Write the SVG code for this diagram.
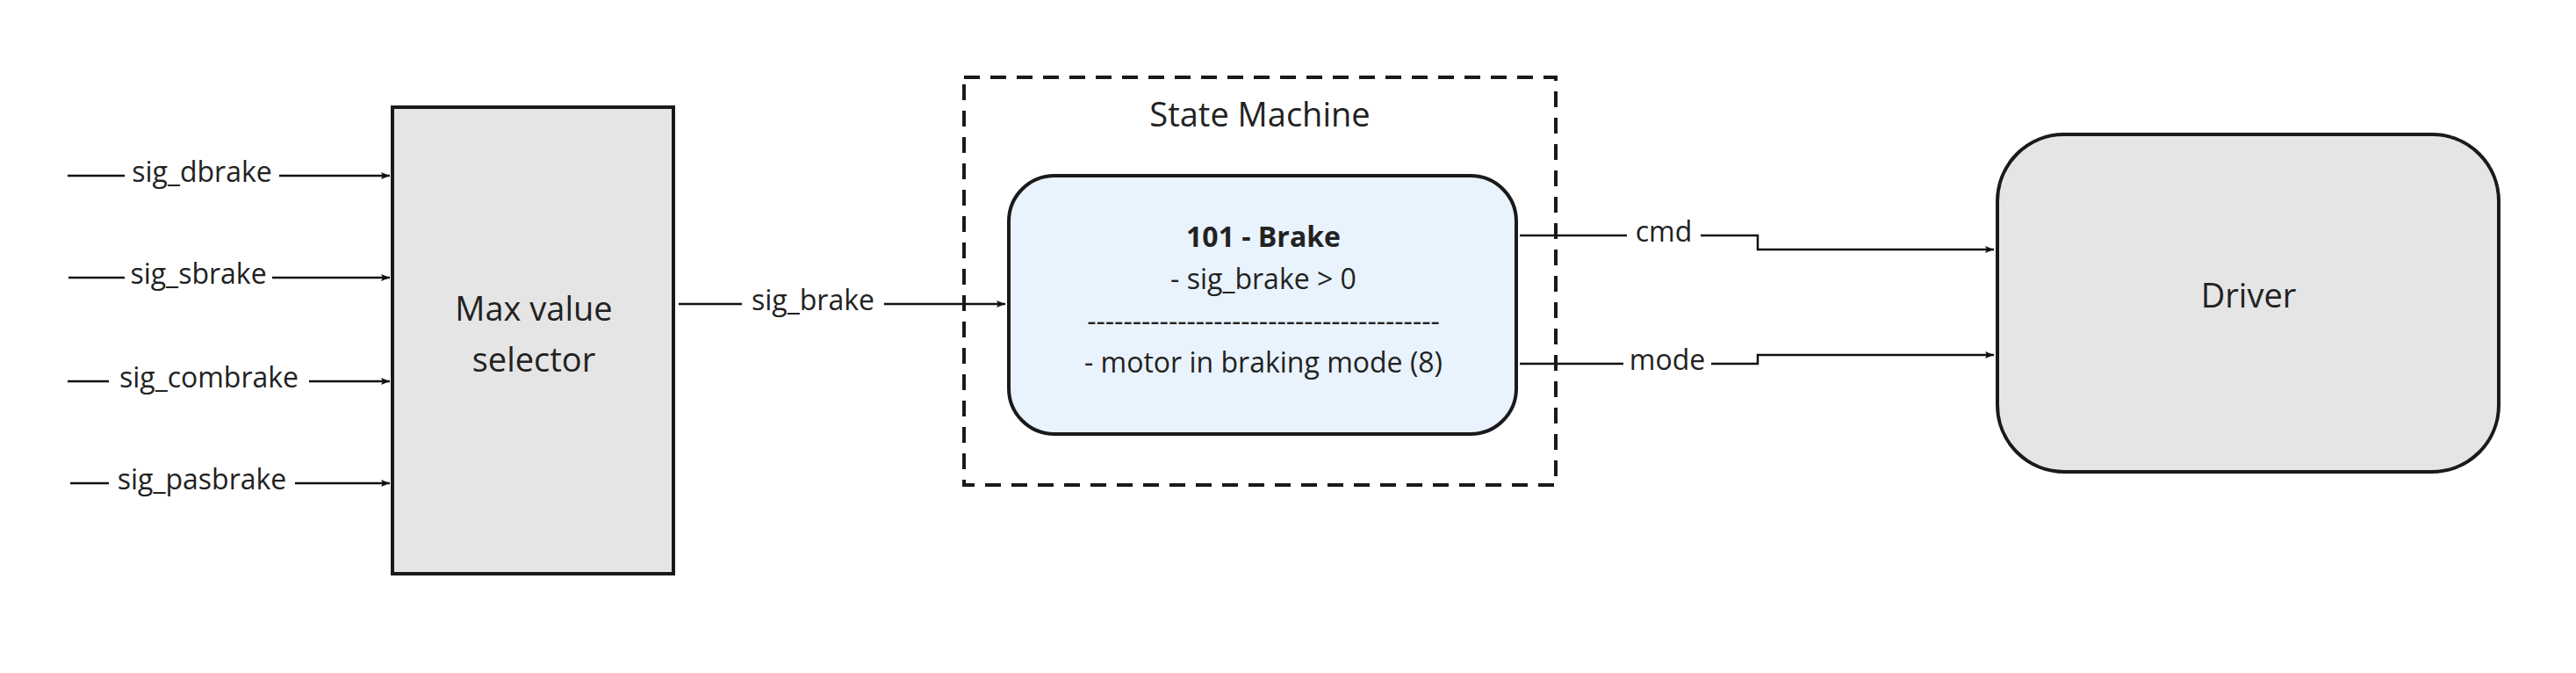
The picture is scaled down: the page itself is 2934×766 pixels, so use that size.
<svg xmlns="http://www.w3.org/2000/svg" width="2934" height="766" viewBox="0 0 2934 766">
<defs>
<marker id="ah" markerWidth="10" markerHeight="8" refX="10" refY="4" orient="auto" markerUnits="userSpaceOnUse" viewBox="0 0 10 8">
<path d="M0,0 L10,4 L0,8 L2,4 Z" fill="#111"/>
</marker>
<style>
text{font-family:"Open Sans","Liberation Sans",sans-serif;fill:#222;text-anchor:middle;dominant-baseline:middle}
.lbl{font-size:32px}
.big{font-size:38px}
.c{fill:none;stroke:#111;stroke-width:2.5}
.lb{fill:#fff}
</style>
</defs>
<rect width="2934" height="766" fill="#fff"/>
<g id="connectors">
<g transform="scale(3.2)"></g>
<path class="c" d="M77,200H444" marker-end="url(#ah)" style="marker-end:url(#ah)"/>
<path class="c" d="M78,316H444" marker-end="url(#ah)"/>
<path class="c" d="M77,434H444" marker-end="url(#ah)"/>
<path class="c" d="M80,550H444" marker-end="url(#ah)"/>
<path class="c" d="M773,346H1145" marker-end="url(#ah)"/>
<path class="c" d="M1731,268H2002V284H2271" marker-end="url(#ah)"/>
<path class="c" d="M1731,414H2002V404H2271" marker-end="url(#ah)"/>
<rect class="lb" x="142" y="180" width="176" height="40"/><text class="lbl" x="230" y="198">sig_dbrake</text>
<rect class="lb" x="142" y="296" width="168" height="40"/><text class="lbl" x="226" y="314">sig_sbrake</text>
<rect class="lb" x="124" y="414" width="228" height="40"/><text class="lbl" x="238" y="432">sig_combrake</text>
<rect class="lb" x="124" y="530" width="212" height="40"/><text class="lbl" x="230" y="548">sig_pasbrake</text>
<rect class="lb" x="845" y="326" width="162" height="40"/><text class="lbl" x="926" y="344">sig_brake</text>
<rect class="lb" x="1853" y="248" width="84" height="40"/><text class="lbl" x="1895" y="266">cmd</text>
<rect class="lb" x="1849" y="394" width="100" height="40"/><text class="lbl" x="1899" y="412">mode</text>
</g>
<g id="max">
<rect x="447" y="122" width="320" height="531" fill="#e5e5e5" stroke="#1a1a1a" stroke-width="4"/>
<text class="big" x="608" y="355">Max value</text>
<text class="big" x="608" y="413">selector</text>
</g>
<g id="statemachine">
<rect x="1098" y="88" width="674" height="464" fill="none" stroke="#1a1a1a" stroke-width="4" stroke-dasharray="18,12"/>
<text class="big" x="1435" y="134">State Machine</text>
</g>
<g id="brake">
<rect x="1149" y="200" width="578" height="294" rx="52" fill="#e9f3fd" stroke="#1a1a1a" stroke-width="4"/>
<text class="lbl" x="1439" y="272" font-weight="bold">101 - Brake</text>
<text class="lbl" x="1439" y="320">- sig_brake &gt; 0</text>
<text class="lbl" x="1439" y="368">---------------------------------------</text>
<text class="lbl" x="1439" y="415">- motor in braking mode (8)</text>
</g>
<g id="driver">
<rect x="2275" y="153" width="571" height="384" rx="76" fill="#e5e5e5" stroke="#1a1a1a" stroke-width="4"/>
<text class="big" x="2561" y="340">Driver</text>
</g>
</svg>
